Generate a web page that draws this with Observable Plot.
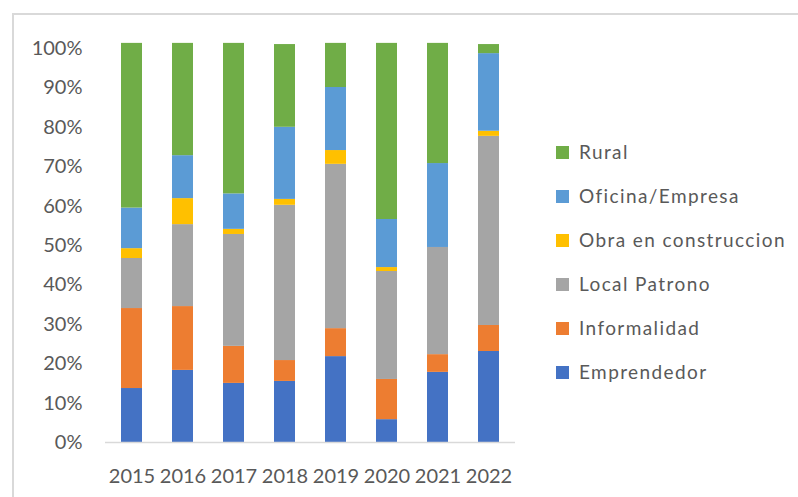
<!DOCTYPE html>
<html>
<head>
<meta charset="utf-8">
<script src="https://cdn.jsdelivr.net/npm/d3@7"></script>
<script src="https://cdn.jsdelivr.net/npm/@observablehq/plot@0.6"></script>
<style>
  html, body { margin: 0; padding: 0; background: #fff; }
  #wrap { position: relative; width: 798px; height: 497px; overflow: hidden; font-family: Lato, "Open Sans", sans-serif; }
  #frame { position: absolute; left: 12px; top: 13px; width: 800px; height: 500px; border-top: 2px solid #D9D9D9; border-left: 2px solid #D9D9D9; box-sizing: border-box; }
  #legend { position: absolute; left: 556px; top: 0; }
  .item { position: absolute; left: 0; white-space: nowrap; font-size: 19px; letter-spacing: 1.4px; color: #595959; line-height: 20px; }
  .sw { display: inline-block; width: 13px; height: 13px; margin-right: 10px; vertical-align: 0px; }
  svg { position: absolute; left: 0; top: 0; }
</style>
</head>
<body>
<div id="wrap">
  <div id="frame"></div>
  <div id="chart"></div>
  <div id="legend"></div>
</div>
<script>
const years = ["2015", "2016", "2017", "2018", "2019", "2020", "2021", "2022"];
const seriesNames = ["Emprendedor", "Informalidad", "Local Patrono", "Obra en construccion", "Oficina/Empresa", "Rural"];
const seriesColors = ["#4472C4", "#ED7D31", "#A5A5A5", "#FFC000", "#5B9BD5", "#70AD47"];
const emprendedor = [13.7, 18.3, 15.0, 15.5, 21.8, 5.8, 17.8, 23.1];
const informalidad = [20.3, 16.2, 9.4, 5.3, 7.1, 10.2, 4.5, 6.6];
const localPatrono = [12.7, 20.8, 28.4, 39.4, 41.7, 27.4, 27.2, 48.0];
const obra = [2.5, 6.6, 1.3, 1.5, 3.5, 1.0, 0.0, 1.3];
const oficina = [10.3, 10.9, 9.0, 18.3, 16.0, 12.2, 21.3, 19.7];
const rural = [41.8, 28.5, 38.2, 21.0, 11.2, 44.7, 30.5, 2.3];
const yTicks = [0, 10, 20, 30, 40, 50, 60, 70, 80, 90, 100];

const seriesValues = [emprendedor, informalidad, localPatrono, obra, oficina, rural];
const data = [];
seriesNames.forEach((s, i) => {
  years.forEach((y, j) => data.push({year: y, series: s, value: seriesValues[i][j]}));
});

const chart = Plot.plot({
  width: 798,
  height: 497,
  marginLeft: 105,
  marginRight: 283,
  marginTop: 48,
  marginBottom: 55,
  style: {fontFamily: "Lato, 'Open Sans', sans-serif", fontSize: "20px", color: "#595959", background: "transparent", overflow: "visible"},
  x: {domain: years, paddingInner: 0.59, paddingOuter: 0.3, label: null, tickSize: 0, tickPadding: 26},
  y: {domain: [0, 100], ticks: yTicks, tickFormat: d => d + "%", label: null, tickSize: 0, tickPadding: 23},
  color: {domain: seriesNames, range: seriesColors},
  marks: [
    Plot.barY(data, {x: "year", y: "value", fill: "series", order: seriesNames}),
    Plot.ruleY([0], {stroke: "#D9D9D9", strokeWidth: 1.5})
  ]
});
chart.querySelectorAll("text").forEach(t => t.setAttribute("fill", "#595959"));
document.getElementById("chart").appendChild(chart);

const legend = document.getElementById("legend");
const order = seriesNames.slice().reverse();
const colors = seriesColors.slice().reverse();
order.forEach((s, i) => {
  const d = document.createElement("div");
  d.className = "item";
  d.style.top = (142 + i * 44) + "px";
  const sw = document.createElement("span");
  sw.className = "sw";
  sw.style.background = colors[i];
  d.appendChild(sw);
  d.appendChild(document.createTextNode(s));
  legend.appendChild(d);
});
</script>
</body>
</html>
